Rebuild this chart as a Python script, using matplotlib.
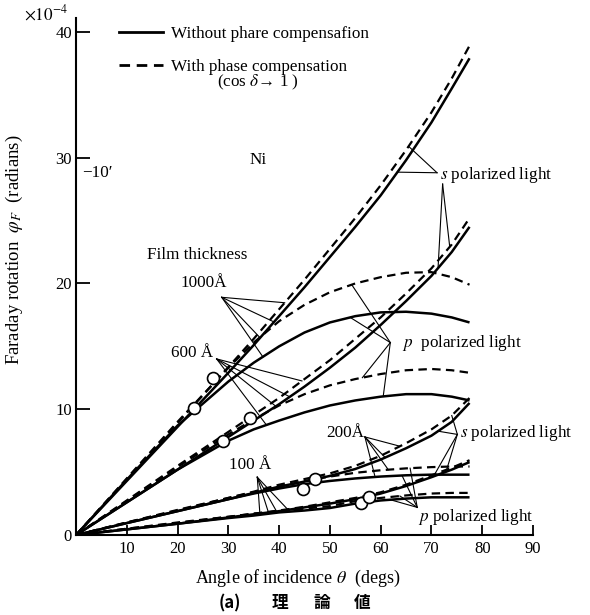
import numpy as np
import matplotlib
matplotlib.use('Agg')
import matplotlib.pyplot as plt
from matplotlib.lines import Line2D

plt.rcParams['font.family'] = ['Liberation Serif', 'DejaVu Serif']
plt.rcParams['mathtext.fontset'] = 'stix'

# angle of incidence (degs)
angle = [0, 10, 20, 30, 35, 40, 45, 50, 55, 60, 65, 70, 74, 77.5]

# Faraday rotation (x1e-4 rad), "sol" = without phase compensation, "dsh" = with
s1000_sol = [0, 4.3, 8.6, 12.9, 15.1, 17.4, 19.7, 22.1, 24.5, 27.0, 29.8, 32.8, 35.5, 37.9]
s1000_dsh = [0, 4.45, 8.9, 13.35, 15.6, 17.95, 20.3, 22.75, 25.2, 27.8, 30.6, 33.6, 36.3, 38.9]
p1000_sol = [0, 4.4, 8.7, 12.2, 13.7, 15.0, 16.1, 16.9, 17.4, 17.7, 17.75, 17.6, 17.3, 16.9]
p1000_dsh = [0, 4.5, 9.0, 13.3, 15.3, 17.0, 18.3, 19.3, 20.0, 20.5, 20.85, 20.9, 20.5, 19.9]
s600_sol = [0, 2.6, 5.2, 7.8, 9.1, 10.4, 11.8, 13.3, 14.9, 16.7, 18.6, 20.6, 22.5, 24.5]
s600_dsh = [0, 2.75, 5.5, 8.2, 9.55, 10.9, 12.4, 13.9, 15.6, 17.3, 19.2, 21.2, 23.1, 25.2]
p600_sol = [0, 2.6, 5.2, 7.5, 8.4, 9.1, 9.75, 10.3, 10.7, 11.0, 11.2, 11.2, 11.0, 10.7]
p600_dsh = [0, 2.7, 5.4, 8.0, 9.2, 10.3, 11.2, 11.9, 12.4, 12.8, 13.1, 13.2, 13.1, 12.9]
s200_sol = [0, 0.95, 1.9, 2.85, 3.35, 3.85, 4.25, 4.7, 5.25, 6.0, 6.9, 7.9, 9.0, 10.5]
s200_dsh = [0, 1.0, 1.95, 2.95, 3.45, 4.0, 4.45, 4.9, 5.5, 6.3, 7.3, 8.4, 9.5, 10.9]
p200_sol = [0, 0.95, 1.9, 2.85, 3.3, 3.7, 4.05, 4.3, 4.5, 4.65, 4.75, 4.8, 4.8, 4.8]
p200_dsh = [0, 1.0, 2.0, 2.95, 3.4, 3.85, 4.3, 4.65, 4.95, 5.15, 5.3, 5.4, 5.45, 5.45]
s100_sol = [0, 0.45, 0.9, 1.4, 1.65, 1.9, 2.2, 2.5, 2.85, 3.3, 3.9, 4.6, 5.2, 5.8]
s100_dsh = [0, 0.5, 0.95, 1.45, 1.7, 1.95, 2.25, 2.6, 2.95, 3.4, 4.0, 4.75, 5.35, 5.95]
p100_sol = [0, 0.45, 0.9, 1.35, 1.55, 1.8, 1.95, 2.15, 2.5, 2.75, 2.9, 3.0, 3.0, 3.0]
p100_dsh = [0, 0.5, 1.0, 1.45, 1.7, 1.9, 2.1, 2.3, 2.7, 2.95, 3.15, 3.3, 3.35, 3.35]

curves = {
    's1000_sol': s1000_sol, 's1000_dsh': s1000_dsh, 'p1000_sol': p1000_sol, 'p1000_dsh': p1000_dsh,
    's600_sol': s600_sol, 's600_dsh': s600_dsh, 'p600_sol': p600_sol, 'p600_dsh': p600_dsh,
    's200_sol': s200_sol, 's200_dsh': s200_dsh, 'p200_sol': p200_sol, 'p200_dsh': p200_dsh,
    's100_sol': s100_sol, 's100_dsh': s100_dsh, 'p100_sol': p100_sol, 'p100_dsh': p100_dsh,
}

# open circles
circ_x = [23.3, 26.9, 28.9, 34.2, 44.7, 47.0, 56.1, 57.7]
circ_y = [10.1, 12.5, 7.5, 9.3, 3.7, 4.45, 2.55, 3.0]

x_ticks = [10, 20, 30, 40, 50, 60, 70, 80, 90]
y_ticks = [0, 10, 20, 30, 40]

# labels: text, text position, alignment, leader start, leader targets (curve, angle)
labels = [
    ('Film thickness', (23.9, 22.3), 'center', None, []),
    ('1000Å', (25.1, 20.0), 'center', (28.7, 18.9),
     [('s1000_dsh', 41.1), ('s1000_sol', 39.0), ('p1000_dsh', 36.2), ('p1000_sol', 36.8)]),
    ('600 Å', (22.9, 14.5), 'center', (27.7, 14.0),
     [('s600_dsh', 44.5), ('s600_sol', 42.1), ('p600_dsh', 39.5), ('p600_sol', 37.5)]),
    ('200Å', (53.0, 8.1), 'center', (56.9, 7.8),
     [('s200_dsh', 63.8), ('s200_sol', 60.9), ('p200_dsh', 61.5), ('p200_sol', 58.9)]),
    ('100 Å', (34.2, 5.6), 'center', (35.7, 4.6),
     [('s100_dsh', 36.2), ('s100_sol', 37.9), ('p100_dsh', 39.5), ('p100_sol', 42.1)]),
    ('$s$ polarized light', (71.7, 28.6), 'left', (71.1, 28.8),
     [('s1000_dsh', 65.5), ('s1000_sol', 63.3)]),
    (None, None, None, (72.2, 27.9), [('s600_sol', 71.3), ('s600_dsh', 73.6)]),
    ('$p$  polarized light', (64.2, 15.3), 'left', (61.9, 15.3),
     [('p1000_dsh', 54.3), ('p1000_sol', 54.0), ('p600_dsh', 56.4), ('p600_sol', 60.5)]),
    ('$s$ polarized light', (75.7, 8.1), 'left', (75.1, 8.0),
     [('s200_sol', 71.3), ('s200_dsh', 74.0), ('s100_sol', 70.4), ('s100_dsh', 73.0)]),
    ('$p$ polarized light', (67.4, 1.45), 'left', (67.2, 2.2),
     [('p100_sol', 61.9), ('p100_dsh', 63.8), ('p200_sol', 64.2), ('p200_dsh', 65.8)]),
]

caption = ['(a)', '理', '論', '値']
caption_x = [0.390, 0.475, 0.546, 0.614]

fs = 12.3
dash = (3.8, 2.4)

fig = plt.figure(figsize=(5.9, 6.15), dpi=100)
ax = fig.add_axes([0.1288, 0.130, 0.7746, 0.8407])

for key, vals in curves.items():
    if key.endswith('sol'):
        ax.plot(angle, vals, color='black', lw=1.8, solid_capstyle='butt')
    else:
        ax.plot(angle, vals, color='black', lw=1.6, dashes=dash)

ax.plot(circ_x, circ_y, 'o', ms=8.6, mfc='white', mec='black', mew=1.2, zorder=5)

for text, pos, ha, start, targets in labels:
    if text is not None:
        ax.text(pos[0], pos[1], text, ha=ha, va='center', fontsize=fs)
    for key, xt in targets:
        yt = np.interp(xt, angle, curves[key])
        ax.plot([start[0], xt], [start[1], yt], color='black', lw=0.8, zorder=4)

ax.text(35.8, 29.8, 'Ni', ha='center', va='center', fontsize=fs)
ax.text(1.3, 28.8, '−10′', ha='left', va='center', fontsize=fs)

handles = [Line2D([], [], color='black', lw=2.0),
           Line2D([], [], color='black', lw=2.0, dashes=dash)]
ax.legend(handles, ['Without phare compensafion', 'With phase compensation'],
          loc='upper left', bbox_to_anchor=(0.094, 0.984), frameon=False,
          fontsize=fs, handlelength=2.6, handletextpad=0.45, labelspacing=0.95,
          borderpad=0, borderaxespad=0)
ax.text(35.8, 36.0, '(cos $\\delta$→ 1 )', ha='center', va='center', fontsize=fs)

ax.set_xlim(0, 90)
ax.set_ylim(0, 41.1)
ax.set_xticks(x_ticks)
ax.set_yticks(y_ticks)
ax.tick_params(axis='both', direction='in', labelsize=12, width=1.3)
ax.tick_params(axis='x', length=7, pad=4)
ax.tick_params(axis='y', length=10, pad=3)
ax.spines['top'].set_visible(False)
ax.spines['right'].set_visible(False)
ax.spines['left'].set_linewidth(1.5)
ax.spines['bottom'].set_linewidth(1.5)

ax.set_xlabel('Angle of incidence $\\theta$  (degs)', fontsize=13)
ax.xaxis.set_label_coords(0.484, -0.064)
ax.set_ylabel('Faraday rotation  $\\varphi_F$  (radians)', fontsize=13.5)
ax.yaxis.set_label_coords(-0.112, 0.551)

fig.text(0.078, 0.977, '$\\times 10^{-4}$', ha='center', va='center', fontsize=fs)
for ch, cx in zip(caption, caption_x):
    fig.text(cx, 0.0195, ch, ha='center', va='center', fontsize=12,
             family=['Noto Sans CJK JP', 'DejaVu Sans'], weight='bold')

fig.savefig('out.png', dpi=100)
